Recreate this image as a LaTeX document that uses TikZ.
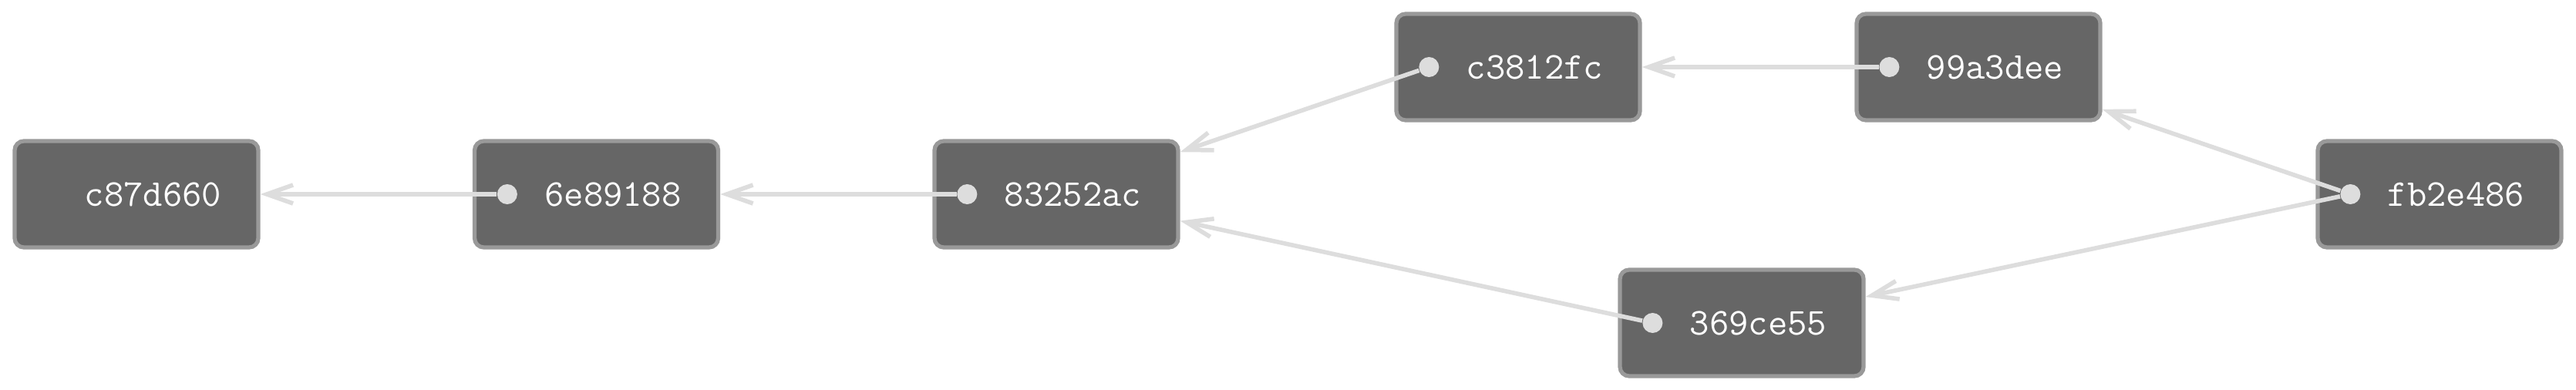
\documentclass[tikz,border=0pt]{standalone}
\usepackage{tikz}
\usetikzlibrary{arrows.meta}
\definecolor{commitfill}{HTML}{666666}
\definecolor{commitedge}{HTML}{999999}
\definecolor{linkgray}{HTML}{DDDDDD}

\begin{document}
\begin{tikzpicture}[
    commit/.style={rectangle, rounded corners=1.2mm, draw=commitedge, line width=1.5pt, fill=commitfill, minimum width=3.16cm, minimum height=1.38cm, text=white, font=\fontsize{14}{16}\selectfont\ttfamily},
    tail/.style={circle, fill=linkgray, inner sep=0pt, minimum size=0.26cm},
    link/.style={-{Straight Barb[length=3.4mm, width=2.4mm]}, draw=linkgray, line width=1.6pt}
]
\useasboundingbox (0,0) rectangle (33.41,5.05);

% Commits
\node[commit] (c87d660) at (1.77, 2.53) {\hspace*{4.3mm}c87d660};
\node[commit] (6e89188) at (7.735, 2.53) {\hspace*{4.3mm}6e89188};
\node[commit] (83252ac) at (13.70, 2.53) {\hspace*{4.3mm}83252ac};
\node[commit] (c3812fc) at (19.69, 4.18) {\hspace*{4.3mm}c3812fc};
\node[commit] (99a3dee) at (25.66, 4.18) {\hspace*{4.3mm}99a3dee};
\node[commit] (fb2e486) at (31.64, 2.53) {\hspace*{4.3mm}fb2e486};
\node[commit] (369ce55) at (22.59, 0.86) {\hspace*{4.3mm}369ce55};

% Parent dots
\node[tail] (6e89188dot) at ([xshift=4.5mm]6e89188.west) {};
\node[tail] (83252acdot) at ([xshift=4.5mm]83252ac.west) {};
\node[tail] (c3812fcdot) at ([xshift=4.5mm]c3812fc.west) {};
\node[tail] (99a3deedot) at ([xshift=4.5mm]99a3dee.west) {};
\node[tail] (fb2e486dot) at ([xshift=4.5mm]fb2e486.west) {};
\node[tail] (369ce55dot) at ([xshift=4.5mm]369ce55.west) {};

% Arrows
\draw[link] (6e89188dot) -- (c87d660);
\draw[link] (83252acdot) -- (6e89188);
\draw[link] (c3812fcdot) -- (83252ac);
\draw[link] (99a3deedot) -- (c3812fc);
\draw[link] (fb2e486dot) -- (99a3dee);
\draw[link] (fb2e486dot) -- (369ce55);
\draw[link] (369ce55dot) -- (83252ac);

\end{tikzpicture}
\end{document}
